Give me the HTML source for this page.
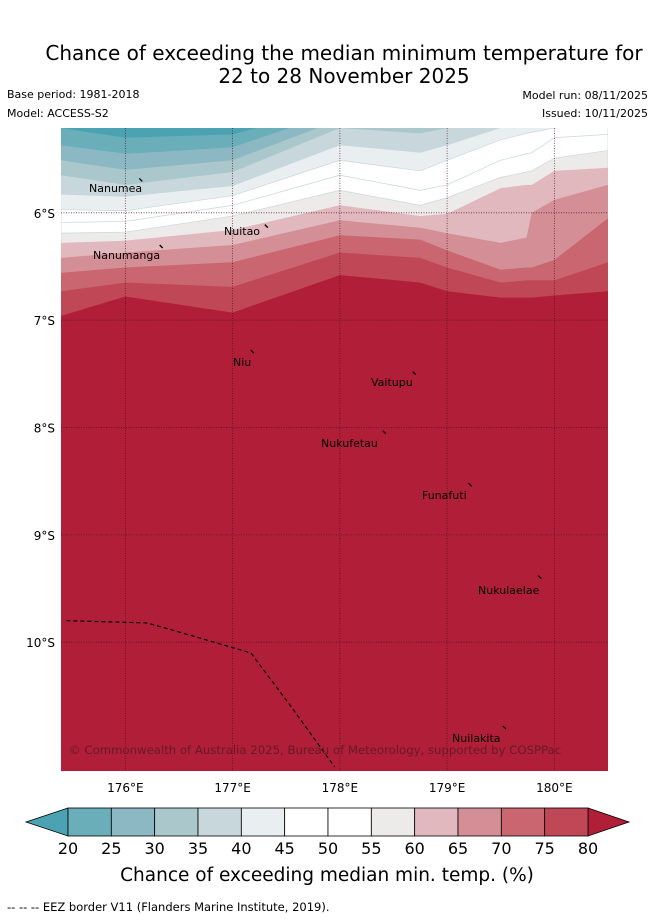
<!DOCTYPE html>
<html><head><meta charset="utf-8">
<style>
body{margin:0;background:#fff;width:655px;height:919px;overflow:hidden;font-family:"DejaVu Sans","Liberation Sans",sans-serif}
svg{display:block;font-family:"DejaVu Sans","Liberation Sans",sans-serif}
</style></head><body>
<svg id="chart" width="655" height="919" viewBox="0 0 655 919" xmlns="http://www.w3.org/2000/svg">
<text x="344" y="60" font-size="20" text-anchor="middle">Chance of exceeding the median minimum temperature for</text>
<text x="344" y="83" font-size="20" text-anchor="middle">22 to 28 November 2025</text>
<text x="7" y="98" font-size="11">Base period: 1981-2018</text>
<text x="7" y="117" font-size="11">Model: ACCESS-S2</text>
<text x="648" y="99" font-size="11" text-anchor="end">Model run: 08/11/2025</text>
<text x="648" y="117" font-size="11" text-anchor="end">Issued: 10/11/2025</text>
<defs><clipPath id="mapclip"><rect x="61" y="128" width="547" height="643"/></clipPath></defs>
<g id="map" clip-path="url(#mapclip)"></g>
<g id="overlay"></g>
<text x="69" y="754" font-size="11.7" fill="#5a1a25" fill-opacity="0.85">© Commonwealth of Australia 2025, Bureau of Meteorology, supported by COSPPac</text>
<g id="axes"></g>
<g id="colorbar"></g>
<text x="327" y="881" font-size="18.5" text-anchor="middle">Chance of exceeding median min. temp. (%)</text>
<text x="7" y="911" font-size="11.5">--  --  -- EEZ border V11 (Flanders Marine Institute, 2019).</text>
</svg>
<script>
// ---- data ----
const lonCols = [175.4, 176.0, 177.0, 178.0, 178.75, 179.0, 179.5, 179.74, 179.79, 180.0, 180.5];
const levels = [20, 25, 30, 35, 40, 45, 50, 55, 60, 65, 70, 75, 80];
const contour20 = [5.21, 5.30, 5.27, 5.00, 5.00, 5.00, 5.00, 5.00, 5.00, 5.00, 5.00];
const contour25 = [5.37, 5.45, 5.39, 5.05, 5.05, 5.00, 5.00, 5.00, 5.00, 5.00, 5.00];
const contour30 = [5.51, 5.60, 5.51, 5.13, 5.15, 5.10, 5.00, 5.00, 5.00, 5.00, 5.00];
const contour35 = [5.65, 5.74, 5.62, 5.21, 5.26, 5.21, 5.10, 5.05, 5.05, 5.00, 5.00];
const contour40 = [5.83, 5.85, 5.75, 5.37, 5.44, 5.37, 5.21, 5.15, 5.14, 5.10, 5.08];
const contour45 = [5.97, 5.98, 5.84, 5.51, 5.61, 5.51, 5.32, 5.26, 5.25, 5.21, 5.18];
const contour50 = [6.09, 6.08, 5.93, 5.65, 5.79, 5.74, 5.51, 5.45, 5.44, 5.30, 5.27];
const contour55 = [6.19, 6.18, 6.03, 5.79, 5.93, 5.86, 5.67, 5.62, 5.61, 5.49, 5.42];
const contour60 = [6.28, 6.26, 6.16, 5.93, 6.03, 6.01, 5.77, 5.74, 5.74, 5.61, 5.58];
const contour65 = [6.42, 6.37, 6.30, 6.07, 6.14, 6.19, 6.28, 6.23, 6.00, 5.88, 5.74];
const contour70 = [6.56, 6.51, 6.46, 6.21, 6.25, 6.35, 6.53, 6.51, 6.51, 6.44, 6.05];
const contour75 = [6.73, 6.65, 6.69, 6.37, 6.42, 6.51, 6.65, 6.63, 6.63, 6.63, 6.46];
const contour80 = [6.96, 6.78, 6.93, 6.58, 6.65, 6.73, 6.79, 6.79, 6.79, 6.77, 6.73];
const contours = [contour20, contour25, contour30, contour35, contour40, contour45, contour50, contour55, contour60, contour65, contour70, contour75, contour80];
const lonTicks = [176, 177, 178, 179, 180];
const latTicks = [6, 7, 8, 9, 10];
const islandNames = ["Nanumea", "Nuitao", "Nanumanga", "Niu", "Vaitupu", "Nukufetau", "Funafuti", "Nukulaelae", "Nuilakita"];
const islandLon = [176.13, 177.3, 176.32, 177.17, 178.68, 178.4, 179.2, 179.85, 179.52];
const islandLat = [5.68, 6.11, 6.30, 7.28, 7.48, 8.03, 8.52, 9.38, 10.78];
const eezLon = [175.45, 176.2, 176.45, 177.17, 177.53, 177.95];
const eezLat = [9.80, 9.82, 9.89, 10.10, 10.58, 11.16];

const bandColors = ["#4aa2b2","#6aaeba","#8bb8c3","#aac7cc","#c8d7dc","#e9eff1","#ffffff","#ffffff","#ecebe9","#e0b8bd","#d48e95","#c96670","#c04756","#b01e38"];

// ---- axis functions ----
const X0 = 61, X1 = 608, Y0 = 128, Y1 = 771;
const lonMin = 175.4, lonMax = 180.5, latMin = 5.21, latMax = 11.2;
const xs = lon => X0 + (lon - lonMin) / (lonMax - lonMin) * (X1 - X0);
const ys = lat => Y0 + (lat - latMin) / (latMax - latMin) * (Y1 - Y0);
const NS = "http://www.w3.org/2000/svg";
function mk(tag, attrs, parent) { const e = document.createElementNS(NS, tag); for (const k in attrs) e.setAttribute(k, attrs[k]); parent.appendChild(e); return e; }

const map = document.getElementById('map');
const bg = mk('rect', {x: X0, y: Y0 - 50, width: X1 - X0, height: Y1 - Y0 + 50, fill: bandColors[0]}, map);


contours.forEach((c, i) => {
  let d = 'M' + xs(lonCols[0]) + ',' + (Y1 + 10);
  c.forEach((lat, j) => { d += ' L' + xs(lonCols[j]).toFixed(1) + ',' + ys(lat).toFixed(1); });
  d += ' L' + xs(lonCols[lonCols.length - 1]) + ',' + (Y1 + 10) + ' Z';
  const p = mk('path', {d: d, fill: bandColors[i + 1]}, map);
  if (levels[i] === 50 || levels[i] === 45 || levels[i] === 55) { p.setAttribute('stroke', '#cfdadf'); p.setAttribute('stroke-width', '0.8'); }
  
  
});
// grid
const ov = document.getElementById('overlay');
lonTicks.forEach(l => {
  const g = mk('line', {x1: xs(l), x2: xs(l), y1: Y0, y2: Y1, stroke: '#4a0a18', 'stroke-width': 0.8, 'stroke-dasharray': '1,1.5', opacity: 0.8}, ov);
  
  
});
latTicks.forEach(l => {
  const g = mk('line', {x1: X0, x2: X1, y1: ys(l), y2: ys(l), stroke: '#4a0a18', 'stroke-width': 0.8, 'stroke-dasharray': '1,1.5', opacity: 0.8}, ov);
  
  
});
// EEZ
let ed = '';
eezLon.forEach((lo, i) => { ed += (i ? ' L' : 'M') + xs(lo).toFixed(1) + ',' + ys(eezLat[i]).toFixed(1); });
const eez = mk('path', {d: ed, fill: 'none', stroke: '#000', 'stroke-width': 1.2, 'stroke-dasharray': '4,3'}, ov);


// islands
islandNames.forEach((n, i) => {
  const x = xs(islandLon[i]), y = ys(islandLat[i]);
  const m = mk('line', {x1: x, y1: y, x2: x + 3, y2: y + 3, stroke: '#000', 'stroke-width': 1.3}, ov);
  
  
});
const labelPos = [[89,192],[224,235],[93,259],[233,366],[371,386],[321,447],[422,499],[478,594],[452,742]];
islandNames.forEach((n, i) => {
  const t = mk('text', {x: labelPos[i][0], y: labelPos[i][1], 'font-size': 11, fill: '#000'}, ov);
  t.textContent = n;
  
  
});
// axes
const ax = document.getElementById('axes');
lonTicks.forEach(l => {
  const t = mk('text', {x: xs(l), y: 792, 'font-size': 12, 'text-anchor': 'middle'}, ax);
  t.textContent = l + '°E';
  
  
});
latTicks.forEach(l => {
  const t = mk('text', {x: 55, y: ys(l) + 5, 'font-size': 12, 'text-anchor': 'end'}, ax);
  t.textContent = l + '°S';
  
  
});
// colorbar
const cb = document.getElementById('colorbar');
const cx0 = 68, cx1 = 588, cy0 = 808, cy1 = 836;
const cw = (cx1 - cx0) / (levels.length - 1);
const lt = mk('polygon', {points: `${cx0},${cy0} 26,822 ${cx0},${cy1}`, fill: bandColors[0], stroke: '#000', 'stroke-width': 0.8}, cb);


const rt = mk('polygon', {points: `${cx1},${cy0} 629,822 ${cx1},${cy1}`, fill: bandColors[13], stroke: '#000', 'stroke-width': 0.8}, cb);


for (let i = 0; i < levels.length - 1; i++) {
  const r = mk('rect', {x: cx0 + i * cw, y: cy0, width: cw, height: cy1 - cy0, fill: bandColors[i + 1], stroke: '#000', 'stroke-width': 0.8}, cb);
  
  
}
levels.forEach((v, i) => {
  const t = mk('text', {x: cx0 + i * cw, y: 854, 'font-size': 16, 'text-anchor': 'middle'}, cb);
  t.textContent = v;
  
  
});
</script>
</body></html>
